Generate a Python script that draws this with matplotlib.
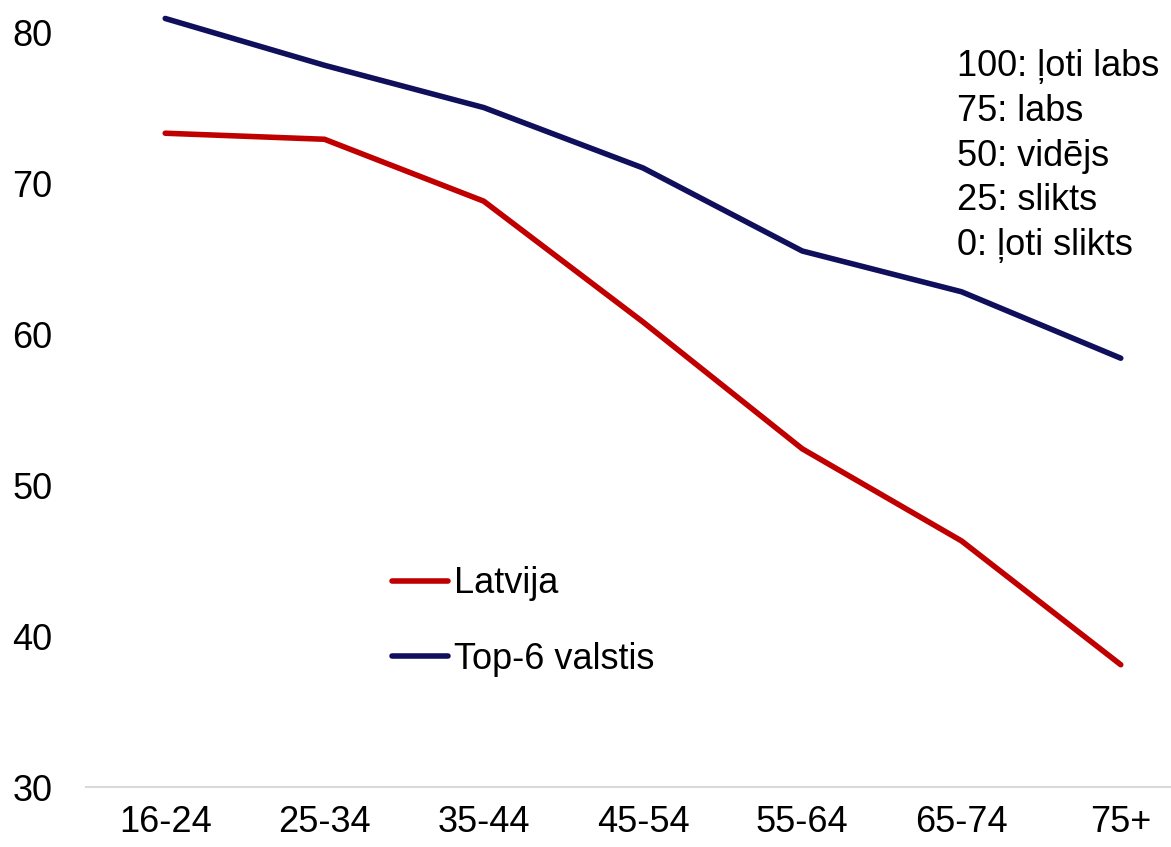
import matplotlib.pyplot as plt

plt.rcParams['font.family'] = ['Liberation Sans', 'DejaVu Sans']

age_groups = ['16-24', '25-34', '35-44', '45-54', '55-64', '65-74', '75+']
latvija = [73.3, 72.9, 68.8, 60.8, 52.4, 46.3, 38.1]
top6 = [80.9, 77.8, 75.0, 71.0, 65.5, 62.8, 58.4]
scale_notes = ['100: ļoti labs', '75: labs', '50: vidējs', '25: slikts', '0: ļoti slikts']

fig = plt.figure(figsize=(11.71, 8.47), dpi=100)
ax = fig.add_axes([0.0731, 0.0708, 0.952, 0.927])

x = range(len(age_groups))
ax.plot(x, latvija, color='#C00000', lw=4, solid_capstyle='round', label='Latvija')
ax.plot(x, top6, color='#0F0F5C', lw=4, solid_capstyle='round', label='Top-6 valstis')

ax.set_xlim(-0.5, 6.5)
ax.set_ylim(30, 82)
ax.set_yticks([30, 40, 50, 60, 70, 80])
ax.set_xticks(list(x))
ax.set_xticklabels(age_groups)
ax.tick_params(axis='both', length=0, labelsize=26)
ax.tick_params(axis='x', pad=13)
ax.tick_params(axis='y', pad=24)

for s in ['top', 'right', 'left']:
    ax.spines[s].set_visible(False)
ax.spines['bottom'].set_color('#D9D9D9')
ax.spines['bottom'].set_linewidth(1.5)

leg = ax.legend(loc='upper left', bbox_to_anchor=(0.246, 0.3225), frameon=False,
                fontsize=26, handlelength=1.55, handletextpad=0.15, labelspacing=1.13)

fig.text(0.817, 0.942, '\n'.join(scale_notes), fontsize=26, va='top', ha='left',
         linespacing=1.36)

fig.savefig('out.png', dpi=100)
